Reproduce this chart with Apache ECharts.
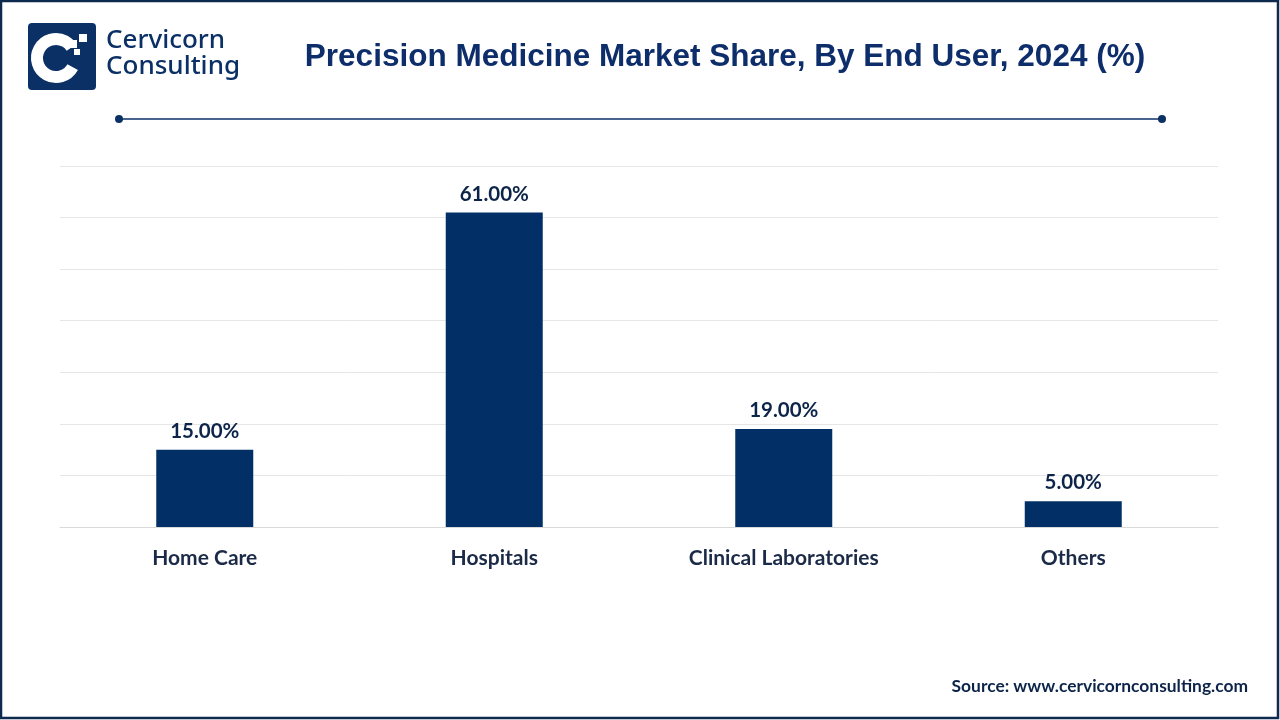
<!DOCTYPE html>
<html><head><meta charset="utf-8">
<script src="https://cdn.jsdelivr.net/npm/echarts@6/dist/echarts.min.js"></script>
<style>html,body{margin:0;padding:0;background:#fff}#c{width:1280px;height:720px}</style>
</head><body><div id="c"></div>
<script>
const categories = ['Home Care', 'Hospitals', 'Clinical Laboratories', 'Others'];
const shares = [15, 61, 19, 5];
const titleText = 'Precision Medicine Market Share, By End User, 2024 (%)';
const sourceText = 'Source: www.cervicornconsulting.com';

const navy = '#022f66';
const chart = echarts.init(document.getElementById('c'));
chart.setOption({
  animation: false,
  backgroundColor: '#fff',
  title: {
    text: titleText, left: 720, top: 36, textAlign: 'center',
    textStyle: { fontFamily: 'Liberation Sans', fontWeight: 'bold', fontSize: 31.5, color: '#0d2e6b' }
  },
  grid: { left: 60, right: 62, top: 166, bottom: 193 },
  xAxis: {
    type: 'category', data: categories,
    axisLine: { lineStyle: { color: '#d9d9d9' } },
    axisTick: { show: false },
    axisLabel: { margin: 21, fontFamily: 'Lato', fontWeight: 'bold', fontSize: 21, color: '#1b2a47' }
  },
  yAxis: {
    type: 'value', min: 0, max: 70, interval: 10,
    axisLabel: { show: false }, axisLine: { show: false }, axisTick: { show: false },
    splitLine: { lineStyle: { color: '#e6e6e6' } }
  },
  series: [{
    type: 'bar', data: shares, barWidth: 97,
    itemStyle: { color: navy },
    label: {
      show: true, position: 'top', distance: 8,
      formatter: p => p.value.toFixed(2) + '%',
      fontFamily: 'Lato', fontWeight: 'bold', fontSize: 20.5, color: '#0d2449'
    }
  }],
  graphic: [
    { type: 'rect', shape: { x: 1, y: 1, width: 1277, height: 717 }, style: { fill: 'none', stroke: '#0e2a4f', lineWidth: 2.5 } },
    // logo
    { type: 'rect', shape: { x: 28, y: 23, width: 68, height: 67, r: 4 }, style: { fill: '#0b3066' } },
    { type: 'arc', shape: { cx: 56, cy: 58, r: 19, startAngle: 0.5, endAngle: Math.PI * 2 - 0.6 }, style: { stroke: '#fff', lineWidth: 12, fill: 'none' } },
    { type: 'rect', shape: { x: 69, y: 40, width: 8, height: 8 }, style: { fill: '#fff' } },
    { type: 'rect', shape: { x: 79, y: 34, width: 8, height: 8 }, style: { fill: '#fff' } },
    { type: 'rect', shape: { x: 74, y: 49, width: 6, height: 6 }, style: { fill: '#fff' } },
    { type: 'text', left: 106, top: 28, style: { text: 'Cervicorn\nConsulting', fill: '#0b3066', font: '500 26px "Noto Sans"', lineHeight: 26 } },
    // decorative line
    { type: 'line', shape: { x1: 119, y1: 119, x2: 1162, y2: 119 }, style: { stroke: '#0b3066', lineWidth: 1.5 } },
    { type: 'circle', shape: { cx: 119, cy: 119, r: 4 }, style: { fill: '#0b3066' } },
    { type: 'circle', shape: { cx: 1162, cy: 119, r: 4 }, style: { fill: '#0b3066' } },
    { type: 'text', right: 32, top: 678, style: { text: sourceText, fill: '#0d2449', font: 'bold 17.4px Lato' } }
  ]
});
</script></body></html>
